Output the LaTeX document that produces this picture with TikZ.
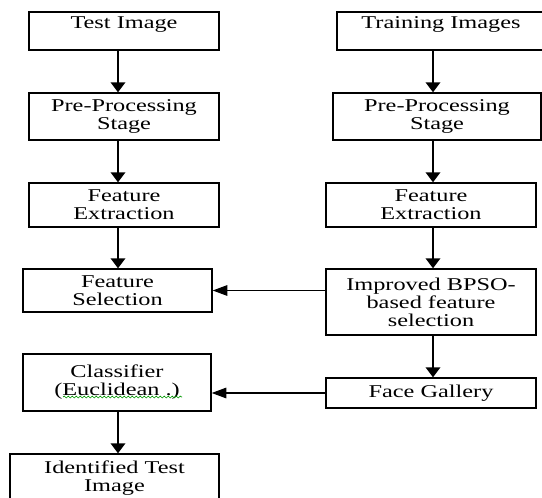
\documentclass[tikz,border=0pt]{standalone}
\usepackage{fontspec}
\setmainfont{Liberation Serif}[FakeStretch=1.35]
\usetikzlibrary{arrows.meta,decorations.pathmorphing}
\tikzset{
  box/.style={draw, line width=1.1pt, align=center, inner sep=0pt,
    font=\fontsize{13.5}{13.5}\selectfont},
  flow/.style={line width=1.1pt, -{Triangle[width=11pt,length=7.5pt]}},
  back/.style={line width=0.8pt, -{Triangle[width=8pt,length=11pt]}}
}
\begin{document}
\begin{tikzpicture}[x=0.75pt, y=-0.75pt]
  \useasboundingbox (0,0) rectangle (542,497);
  % test side
  \draw
    (124,31) node[box, minimum width=142.5pt, minimum height=28.5pt, text depth=12pt] (test){Test Image}
    (124,116.5) node[box, minimum width=142.5pt, minimum height=35.25pt] (pre1){Pre-Processing\\Stage}
    (124,205) node[box, minimum width=142.5pt, minimum height=33pt] (fe1){Feature\\Extraction}
    (117.5,290.5) node[box, minimum width=141.75pt, minimum height=32.25pt] (sel){Feature\\Selection}
    (117,382.5) node[box, minimum width=141pt, minimum height=42.75pt] (cls){Classifier\\(Euclidean .)}
    (114.5,478) node[box, minimum width=156.75pt, minimum height=36pt] (ident){Identified Test\\Image};
  % training side
  \draw
    (441,31) node[box, minimum width=156pt, minimum height=28.5pt, text depth=12pt] (train){Training Images}
    (437,116.5) node[box, minimum width=156pt, minimum height=35.25pt] (pre2){Pre-Processing\\Stage}
    (431,205) node[box, minimum width=157.5pt, minimum height=33pt] (fe2){Feature\\Extraction}
    (431,302) node[box, minimum width=157.5pt, minimum height=49.5pt] (bpso){Improved BPSO-\\based feature\\selection}
    (431,393) node[box, minimum width=157.5pt, minimum height=22.5pt] (gal){Face Gallery};
  \coordinate (L) at (118,0);
  \coordinate (R) at (433,0);
  \begin{scope}[flow]
    \draw (test.south -| L) to (pre1.north -| L);
    \draw (pre1.south -| L) to (fe1.north -| L);
    \draw (fe1.south -| L) to (sel.north -| L);
    \draw (cls.south -| L) to (ident.north -| L);
    \draw (train.south -| R) to (pre2.north -| R);
    \draw (pre2.south -| R) to (fe2.north -| R);
    \draw (fe2.south -| R) to (bpso.north -| R);
    \draw (bpso.south -| R) to (gal.north -| R);
  \end{scope}
  \begin{scope}[back]
    \draw (bpso.west |- sel.east) to (sel.east);
    \draw (gal.west) to (gal.west -| cls.east);
  \end{scope}
  % spell-check squiggle
  \draw[green!60!black, line width=0.5pt, decorate,
    decoration={snake, amplitude=0.7pt, segment length=3pt}] (63,397) -- (182,397);
\end{tikzpicture}
\end{document}
